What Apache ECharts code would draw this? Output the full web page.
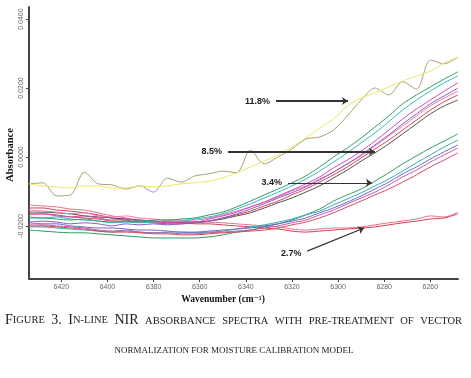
<!DOCTYPE html>
<html>
<head>
<meta charset="utf-8">
<title>In-line NIR absorbance spectra</title>
<script src="https://cdn.jsdelivr.net/npm/echarts@6/dist/echarts.min.js"></script>
<style>
html, body { margin: 0; padding: 0; background: #fff; }
#chart { width: 471px; height: 378px; }
</style>
</head>
<body>
<div id="chart"></div>
<script>
// wavenumber grid (cm-1)
var waveNumbers = [6434, 6428, 6422, 6416, 6410, 6404, 6398, 6392, 6386, 6380, 6374, 6368, 6362, 6356, 6350, 6344,
    6338, 6332, 6326, 6320, 6314, 6308, 6302, 6296, 6290, 6284, 6278, 6272, 6266, 6260, 6254, 6248];
var xTicks = [6260, 6280, 6300, 6320, 6340, 6360, 6380, 6400, 6420];
var yTicks = [-0.02, 0, 0.02, 0.04];

// 11.8% moisture
var yellow118 = [-0.0078, -0.0084, -0.0087, -0.0090, -0.0084, -0.0084, -0.0090, -0.0090, -0.0084, -0.0087, -0.0084, -0.0078, -0.0075, -0.0070, -0.0061, -0.0046,
    -0.0029, -0.0012, 0.0006, 0.0029, 0.0055, 0.0084, 0.0110, 0.0148, 0.0171, 0.0186, 0.0203, 0.0220, 0.0235, 0.0249, 0.0273, 0.0290];
var olive118 = [-0.0078, -0.0075, -0.0113, -0.0110, -0.0044, -0.0078, -0.0081, -0.0093, -0.0084, -0.0102, -0.0061, -0.0073, -0.0055, -0.0049, -0.0041, -0.0046,
    0.0020, -0.0020, 0.0000, 0.0023, 0.0052, 0.0058, 0.0078, 0.0119, 0.0165, 0.0200, 0.0180, 0.0218, 0.0197, 0.0281, 0.0270, 0.0290];

// 8.5% moisture
var green85 = [-0.0177, -0.0177, -0.0180, -0.0183, -0.0180, -0.0186, -0.0189, -0.0186, -0.0186, -0.0183, -0.0183, -0.0180, -0.0177, -0.0168, -0.0160, -0.0145,
    -0.0128, -0.0110, -0.0093, -0.0075, -0.0055, -0.0029, 0.0000, 0.0026, 0.0055, 0.0087, 0.0119, 0.0154, 0.0180, 0.0203, 0.0226, 0.0247];
var cyan85 = [-0.0174, -0.0177, -0.0174, -0.0180, -0.0183, -0.0186, -0.0191, -0.0189, -0.0191, -0.0189, -0.0186, -0.0186, -0.0180, -0.0174, -0.0165, -0.0151,
    -0.0136, -0.0119, -0.0102, -0.0084, -0.0064, -0.0041, -0.0015, 0.0012, 0.0041, 0.0070, 0.0102, 0.0136, 0.0165, 0.0191, 0.0215, 0.0235];
var magenta85 = [-0.0168, -0.0165, -0.0171, -0.0174, -0.0171, -0.0177, -0.0183, -0.0180, -0.0186, -0.0189, -0.0191, -0.0189, -0.0189, -0.0180, -0.0171, -0.0160,
    -0.0145, -0.0131, -0.0113, -0.0096, -0.0078, -0.0058, -0.0032, -0.0009, 0.0017, 0.0046, 0.0078, 0.0110, 0.0139, 0.0165, 0.0191, 0.0215];
var purple85 = [-0.0189, -0.0186, -0.0189, -0.0194, -0.0191, -0.0194, -0.0200, -0.0194, -0.0197, -0.0194, -0.0197, -0.0194, -0.0191, -0.0186, -0.0177, -0.0165,
    -0.0151, -0.0136, -0.0119, -0.0104, -0.0087, -0.0067, -0.0044, -0.0020, 0.0006, 0.0035, 0.0064, 0.0096, 0.0125, 0.0154, 0.0177, 0.0200];
var pink85 = [-0.0154, -0.0157, -0.0160, -0.0165, -0.0162, -0.0171, -0.0174, -0.0171, -0.0177, -0.0180, -0.0183, -0.0183, -0.0183, -0.0177, -0.0168, -0.0157,
    -0.0145, -0.0131, -0.0116, -0.0099, -0.0084, -0.0064, -0.0044, -0.0020, 0.0003, 0.0032, 0.0061, 0.0090, 0.0119, 0.0148, 0.0171, 0.0191];
var red85 = [-0.0165, -0.0165, -0.0168, -0.0174, -0.0177, -0.0180, -0.0186, -0.0186, -0.0189, -0.0191, -0.0194, -0.0194, -0.0191, -0.0186, -0.0177, -0.0168,
    -0.0157, -0.0142, -0.0128, -0.0110, -0.0093, -0.0073, -0.0052, -0.0029, -0.0003, 0.0023, 0.0049, 0.0078, 0.0107, 0.0136, 0.0160, 0.0180];
var dark85 = [-0.0160, -0.0160, -0.0162, -0.0165, -0.0171, -0.0174, -0.0177, -0.0180, -0.0183, -0.0186, -0.0189, -0.0189, -0.0189, -0.0186, -0.0180, -0.0171,
    -0.0162, -0.0148, -0.0133, -0.0119, -0.0102, -0.0084, -0.0061, -0.0038, -0.0012, 0.0012, 0.0038, 0.0067, 0.0096, 0.0125, 0.0148, 0.0165];

// 3.4% moisture
var green34 = [-0.0212, -0.0215, -0.0218, -0.0220, -0.0220, -0.0223, -0.0226, -0.0229, -0.0232, -0.0235, -0.0235, -0.0235, -0.0235, -0.0232, -0.0226, -0.0218,
    -0.0212, -0.0203, -0.0194, -0.0183, -0.0168, -0.0151, -0.0128, -0.0110, -0.0093, -0.0070, -0.0046, -0.0020, 0.0003, 0.0026, 0.0046, 0.0067];
var teal34 = [-0.0203, -0.0203, -0.0206, -0.0209, -0.0212, -0.0215, -0.0218, -0.0215, -0.0218, -0.0220, -0.0218, -0.0218, -0.0220, -0.0218, -0.0215, -0.0209,
    -0.0203, -0.0197, -0.0189, -0.0180, -0.0168, -0.0157, -0.0139, -0.0122, -0.0104, -0.0084, -0.0064, -0.0041, -0.0017, 0.0006, 0.0029, 0.0049];
var blue34 = [-0.0191, -0.0194, -0.0194, -0.0200, -0.0203, -0.0206, -0.0206, -0.0209, -0.0212, -0.0212, -0.0215, -0.0218, -0.0218, -0.0215, -0.0212, -0.0209,
    -0.0206, -0.0200, -0.0194, -0.0186, -0.0177, -0.0162, -0.0148, -0.0131, -0.0113, -0.0093, -0.0073, -0.0049, -0.0029, -0.0006, 0.0015, 0.0035];
var magenta34 = [-0.0197, -0.0197, -0.0200, -0.0203, -0.0206, -0.0212, -0.0215, -0.0212, -0.0218, -0.0220, -0.0220, -0.0223, -0.0223, -0.0220, -0.0218, -0.0215,
    -0.0212, -0.0206, -0.0200, -0.0191, -0.0183, -0.0168, -0.0154, -0.0136, -0.0119, -0.0102, -0.0081, -0.0058, -0.0038, -0.0015, 0.0006, 0.0026];
var red34 = [-0.0200, -0.0200, -0.0203, -0.0206, -0.0209, -0.0215, -0.0218, -0.0218, -0.0220, -0.0223, -0.0223, -0.0226, -0.0226, -0.0223, -0.0220, -0.0218,
    -0.0215, -0.0212, -0.0206, -0.0197, -0.0189, -0.0177, -0.0162, -0.0145, -0.0128, -0.0110, -0.0093, -0.0073, -0.0052, -0.0029, -0.0009, 0.0012];

// 2.7% moisture
var pink27 = [-0.0139, -0.0142, -0.0145, -0.0151, -0.0154, -0.0162, -0.0171, -0.0177, -0.0183, -0.0186, -0.0189, -0.0189, -0.0189, -0.0189, -0.0191, -0.0194,
    -0.0197, -0.0200, -0.0203, -0.0209, -0.0212, -0.0209, -0.0206, -0.0206, -0.0203, -0.0197, -0.0191, -0.0186, -0.0180, -0.0171, -0.0174, -0.0160];
var red27 = [-0.0148, -0.0148, -0.0154, -0.0157, -0.0162, -0.0168, -0.0177, -0.0183, -0.0189, -0.0189, -0.0191, -0.0191, -0.0194, -0.0194, -0.0197, -0.0200,
    -0.0203, -0.0206, -0.0209, -0.0215, -0.0218, -0.0215, -0.0212, -0.0209, -0.0206, -0.0203, -0.0197, -0.0191, -0.0186, -0.0180, -0.0177, -0.0165];

// moisture labels with arrow start / end (wavenumber, absorbance)
var labelNames = ['11.8%', '8.5%', '3.4%', '2.7%'];
var arrowStart = [[6326.9, 0.0162], [6347.7, 0.0015], [6321.7, -0.0075], [6313.4, -0.0273]];
var arrowEnd = [[6295.7, 0.0162], [6284.0, 0.0015], [6285.3, -0.0075], [6288.7, -0.0206]];

// caption, small caps: b = full capital, s = small capital
var captionLine1 = ['{b|F}{s|IGURE}', '{b|3.}', '{b|I}{s|N-LINE}', '{b|NIR}', '{s|ABSORBANCE}', '{s|SPECTRA}',
    '{s|WITH}', '{s|PRE-TREATMENT}', '{s|OF}', '{s|VECTOR}'];
var captionLine2 = 'NORMALIZATION FOR MOISTURE CALIBRATION MODEL';

var spectra = [
    { name: '2.7% a', color: '#e87090', values: pink27 },
    { name: '2.7% b', color: '#d83c52', values: red27 },
    { name: '3.4% green', color: '#2f9a5c', values: green34 },
    { name: '3.4% teal', color: '#35a8b0', values: teal34 },
    { name: '3.4% blue', color: '#6a6ad0', values: blue34 },
    { name: '3.4% magenta', color: '#c855b0', values: magenta34 },
    { name: '3.4% red', color: '#d84a5a', values: red34 },
    { name: '8.5% dark', color: '#505050', values: dark85 },
    { name: '8.5% red', color: '#d8404c', values: red85 },
    { name: '8.5% pink', color: '#e87aa8', values: pink85 },
    { name: '8.5% purple', color: '#8a5ac8', values: purple85 },
    { name: '8.5% magenta', color: '#d048b4', values: magenta85 },
    { name: '8.5% cyan', color: '#38b4c8', values: cyan85 },
    { name: '8.5% green', color: '#2e9e62', values: green85 },
    { name: '11.8% olive', color: '#a8a072', values: olive118 },
    { name: '11.8% yellow', color: '#e8e860', values: yellow118 }
];

var series = spectra.map(function (s) {
    return {
        name: s.name,
        type: 'line',
        showSymbol: false,
        smooth: 0.3,
        silent: true,
        lineStyle: { color: s.color, width: 1 },
        data: s.values.map(function (v, i) { return [waveNumbers[i], v]; })
    };
});

// arrows with the moisture labels
var arrows = labelNames.map(function (n, i) {
    return [
        { name: n, coord: arrowStart[i], lineStyle: { width: i < 2 ? 2 : 1.2 } },
        { coord: arrowEnd[i] }
    ];
});
series.push({
    type: 'line',
    data: [],
    silent: true,
    markLine: {
        silent: true,
        animation: false,
        symbol: ['none', 'arrow'],
        symbolSize: 6,
        lineStyle: { color: '#333', type: 'solid' },
        label: {
            show: true,
            position: 'start',
            formatter: '{b}',
            distance: 6,
            color: '#222',
            fontSize: 9,
            fontWeight: 'bold',
            fontFamily: 'Liberation Sans'
        },
        data: arrows
    }
});

var serif = '"Liberation Serif", "DejaVu Serif", serif';
var capBig = 14, capSmall = 10.5, capLine2 = 9;
var capRich = {
    b: { fontFamily: serif, fontSize: capBig, fill: '#222' },
    s: { fontFamily: serif, fontSize: capSmall, fill: '#222' }
};

// first caption line is justified between x = 5 and x = 462
var ctx = document.createElement('canvas').getContext('2d');
function wordWidth(w) {
    var re = /\{(\w)\|([^}]*)\}/g, m, total = 0;
    while ((m = re.exec(w)) !== null) {
        ctx.font = (m[1] === 'b' ? capBig : capSmall) + 'px ' + serif;
        total += ctx.measureText(m[2]).width;
    }
    return total;
}
var widths = captionLine1.map(wordWidth);
var sumW = widths.reduce(function (a, b) { return a + b; }, 0);
var gap = (462 - 5 - sumW) / (captionLine1.length - 1);
var graphics = [];
var cx = 5;
captionLine1.forEach(function (w, i) {
    graphics.push({
        type: 'text', x: cx, y: 327,
        style: { text: w, rich: capRich, fontFamily: serif, fontSize: capSmall, fill: '#222',
            align: 'left', verticalAlign: 'bottom', textAlign: 'left', textVerticalAlign: 'bottom' }
    });
    cx += widths[i] + gap;
});
graphics.push({
    type: 'text', x: 234, y: 355,
    style: { text: captionLine2, fontFamily: serif, fontSize: capLine2, fill: '#222',
        align: 'center', verticalAlign: 'bottom', textAlign: 'center', textVerticalAlign: 'bottom' }
});
graphics.push({
    type: 'text', x: 10, y: 155, rotation: Math.PI / 2,
    style: { text: 'Absorbance', fontFamily: serif, fontSize: 10.5, fontWeight: 'bold', fill: '#111',
        align: 'center', verticalAlign: 'middle', textAlign: 'center', textVerticalAlign: 'middle' }
});
graphics.push({
    type: 'text', x: 223, y: 300,
    style: { text: 'Wavenumber (cm\u207b\u00b9)', fontFamily: serif, fontSize: 9.5, fontWeight: 'bold', fill: '#111',
        align: 'center', verticalAlign: 'middle', textAlign: 'center', textVerticalAlign: 'middle' }
});

var chart = echarts.init(document.getElementById('chart'));
chart.setOption({
    animation: false,
    grid: { left: 29, right: 13, top: 7, bottom: 99, outerBoundsMode: 'none' },
    xAxis: {
        type: 'value',
        inverse: true,
        min: 6248,
        max: 6434,
        axisLine: { onZero: false, lineStyle: { color: '#444', width: 2 } },
        axisTick: { customValues: xTicks, length: 3, lineStyle: { color: '#444' } },
        axisLabel: {
            customValues: xTicks, fontSize: 7, color: '#666', margin: 5,
            formatter: function (v) { return String(v); }
        },
        splitLine: { show: false }
    },
    yAxis: {
        type: 'value',
        min: -0.0354,
        max: 0.0435,
        axisLine: { show: true, lineStyle: { color: '#444', width: 2 } },
        axisTick: { show: true, customValues: yTicks, length: 3, lineStyle: { color: '#444' } },
        axisLabel: {
            customValues: yTicks, rotate: 90, fontSize: 7, color: '#666', margin: 4,
            formatter: function (v) { return v.toFixed(4); }
        },
        splitLine: { show: false }
    },
    graphic: graphics,
    series: series
});
</script>
</body>
</html>
